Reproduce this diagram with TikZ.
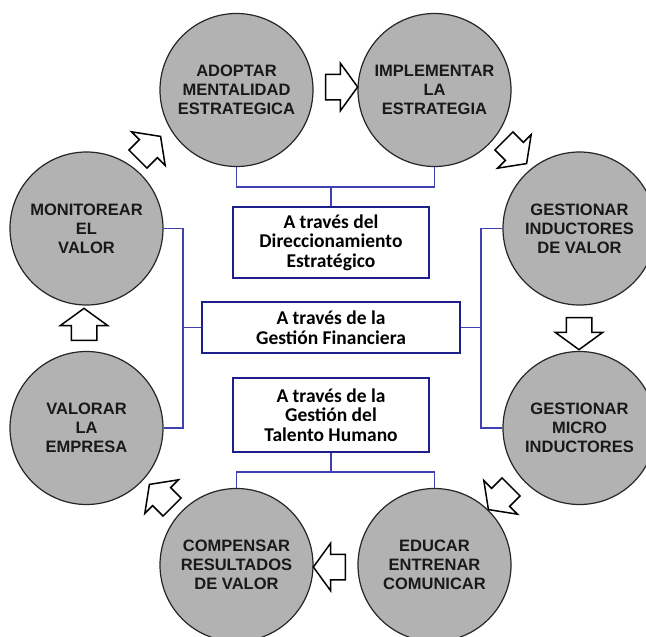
\documentclass[tikz,border=0pt]{standalone}
\usepackage{fontspec}
\setmainfont{Liberation Sans}
\newfontfamily\boxfont{Carlito}
\usepackage{tikz}
\usetikzlibrary{shapes.arrows}
\usepackage{xcolor}
\definecolor{linkblue}{RGB}{64,64,176}
\definecolor{boxblue}{RGB}{30,30,140}

\begin{document}
\begin{tikzpicture}[x=1pt,y=-1pt]
	 \tikzstyle{stage}=[circle,minimum size=153pt,inner sep=0pt,draw=black!85,line width=1.2pt,fill=black!30,align=center,text=black!90,font=\fontsize{16.5}{19}\selectfont\bfseries]
	 \tikzstyle{channel}=[rectangle,inner sep=0pt,draw=boxblue,line width=2pt,fill=white,align=center,font=\boxfont\fontsize{19.5}{19.5}\selectfont\bfseries]
	 \tikzstyle{link}=[draw,line width=1.3pt,-,linkblue]
	 \tikzstyle{flow}=[single arrow,inner xsep=0pt,inner ysep=12pt,minimum height=32pt,single arrow head extend=11pt,single arrow tip angle=108,draw=black,line width=1.5pt,fill=white]

	 \fill[white] (0,0) rectangle (646,637);
	 \clip (0,0) rectangle (646,637);

	 \node[stage] (adopt) at (236.5,90) {ADOPTAR\\MENTALIDAD\\ESTRATEGICA};
	 \node[stage] (impl) at (434.5,90) {IMPLEMENTAR\\LA\\ESTRATEGIA};
	 \node[stage] (induc) at (579.5,228.5) {GESTIONAR\\INDUCTORES\\DE VALOR};
	 \node[stage] (micro) at (579.5,428) {GESTIONAR\\MICRO\\INDUCTORES};
	 \node[stage] (educ) at (434.5,565) {EDUCAR\\ENTRENAR\\COMUNICAR};
	 \node[stage] (comp) at (236.5,565) {COMPENSAR\\RESULTADOS\\DE VALOR};
	 \node[stage] (valor) at (86.5,428) {VALORAR\\LA\\EMPRESA};
	 \node[stage] (monit) at (86.5,228.5) {MONITOREAR\\EL\\VALOR};

	 \node[channel,minimum width=196pt,minimum height=71pt] (direc) at (331,242.5) {A través del\\Direccionamiento\\Estratégico};
	 \node[channel,minimum width=258pt,minimum height=51pt] (finan) at (331,327.5) {A través de la\\Gestión Financiera};
	 \node[channel,minimum width=196pt,minimum height=74pt] (talent) at (331,415) {A través de la\\Gestión del\\Talento Humano};

	 \coordinate (topjoin) at (331,187);
	 \coordinate (leftjoin) at (183,327.5);
	 \coordinate (rightjoin) at (481,327.5);
	 \coordinate (botjoin) at (331,472);

	 \draw[link] (adopt.south) |- (topjoin) -| (impl.south);
	 \draw[link] (topjoin) -- (direc.north);
	 \draw[link] (monit.east) -| (leftjoin) |- (valor.east);
	 \draw[link] (leftjoin) -- (finan.west);
	 \draw[link] (induc.west) -| (rightjoin) |- (micro.west);
	 \draw[link] (rightjoin) -- (finan.east);
	 \draw[link] (comp.north) |- (botjoin) -| (educ.north);
	 \draw[link] (talent.south) -- (botjoin);

	 \node[flow] (f1) at (337,87) {};
	 \node[flow,rotate=-45] (f2) at (512,149) {};
	 \node[flow,rotate=-90] (f3) at (579,329) {};
	 \node[flow,rotate=-135] (f4) at (503,495) {};
	 \node[flow,rotate=180] (f5) at (334,567) {};
	 \node[flow,rotate=135] (f6) at (164,499) {};
	 \node[flow,rotate=90] (f7) at (84,329) {};
	 \node[flow,rotate=45] (f8) at (146,151) {};
 \end{tikzpicture}
\end{document}
